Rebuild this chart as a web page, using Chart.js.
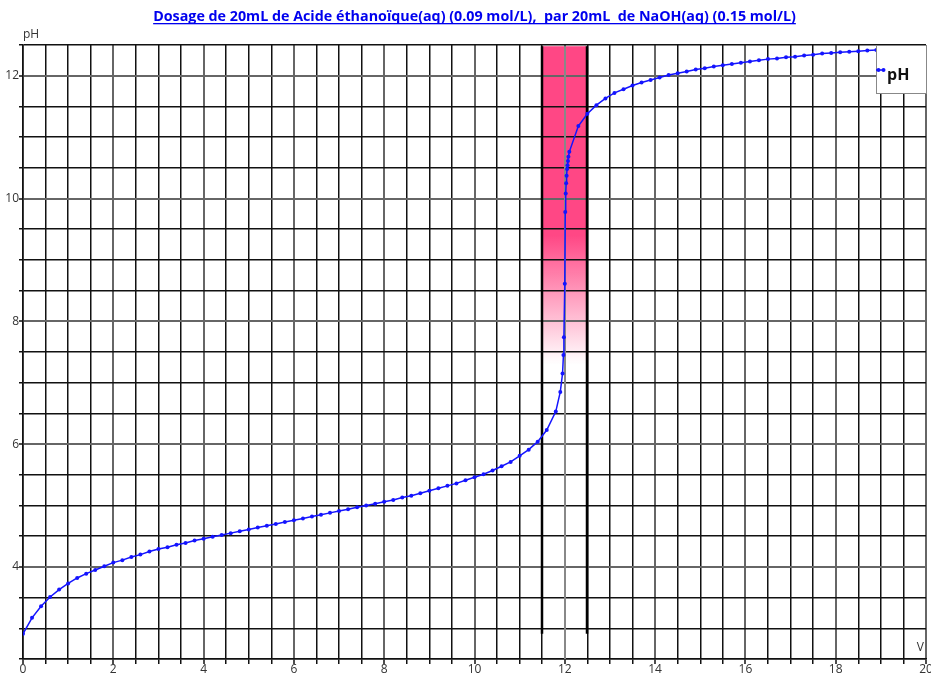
<!DOCTYPE html>
<html>
<head>
<meta charset="utf-8">
<script src="https://cdn.jsdelivr.net/npm/chart.js@4.4.1/dist/chart.umd.min.js"></script>
<style>
  body { margin: 0; background: #fff; }
  canvas { display: block; }
</style>
</head>
<body>
<canvas id="titrationChart" width="931" height="674"></canvas>
<script>
// Data
const volumes = [
  0, 0.2, 0.4, 0.6, 0.8, 1.0, 1.2, 1.4, 1.6, 1.8,
  2.0, 2.2, 2.4, 2.6, 2.8, 3.0, 3.2, 3.4, 3.6, 3.8,
  4.0, 4.2, 4.4, 4.6, 4.8, 5.0, 5.2, 5.4, 5.6, 5.8,
  6.0, 6.2, 6.4, 6.6, 6.8, 7.0, 7.2, 7.4, 7.6, 7.8,
  8.0, 8.2, 8.4, 8.6, 8.8, 9.0, 9.2, 9.4, 9.6, 9.8,
  10.0, 10.2, 10.4, 10.6, 10.8, 11.0, 11.2, 11.4, 11.6, 11.8,
  11.9, 11.95, 11.97, 11.98, 12.0, 12.01, 12.02, 12.03, 12.04, 12.05,
  12.06, 12.07, 12.08, 12.1, 12.3, 12.5, 12.7, 12.9, 13.1, 13.3,
  13.5, 13.7, 13.9, 14.1, 14.3, 14.5, 14.7, 14.9, 15.1, 15.3,
  15.5, 15.7, 15.9, 16.1, 16.3, 16.5, 16.7, 16.9, 17.1, 17.3,
  17.5, 17.7, 17.9, 18.1, 18.3, 18.5, 18.7, 18.9, 19.1, 19.3,
  19.5, 19.7, 19.9, 20
];
const phValues = [
  2.91, 3.17, 3.36, 3.51, 3.63, 3.73, 3.82, 3.89, 3.95, 4.01,
  4.07, 4.11, 4.16, 4.20, 4.25, 4.29, 4.32, 4.36, 4.39, 4.43,
  4.46, 4.49, 4.52, 4.55, 4.58, 4.61, 4.64, 4.67, 4.70, 4.73,
  4.76, 4.79, 4.82, 4.85, 4.88, 4.91, 4.94, 4.97, 5.00, 5.03,
  5.06, 5.09, 5.13, 5.16, 5.20, 5.24, 5.28, 5.32, 5.36, 5.41,
  5.46, 5.51, 5.57, 5.64, 5.71, 5.81, 5.91, 6.04, 6.23, 6.53,
  6.85, 7.15, 7.45, 7.74, 8.61, 9.78, 10.08, 10.25, 10.37, 10.48,
  10.54, 10.61, 10.68, 10.76, 11.18, 11.38, 11.52, 11.63, 11.72, 11.78,
  11.84, 11.89, 11.93, 11.97, 12.01, 12.04, 12.07, 12.10, 12.12, 12.15,
  12.17, 12.19, 12.21, 12.23, 12.25, 12.27, 12.28, 12.30, 12.31, 12.33,
  12.34, 12.36, 12.37, 12.38, 12.39, 12.40, 12.41, 12.42, 12.43, 12.44,
  12.45, 12.46, 12.47, 12.48
];
const xLabels = [0, 2, 4, 6, 8, 10, 12, 14, 16, 18, 20];
const yLabels = [4, 6, 8, 10, 12];
const equivalenceVolume = 12;
const zoneVolumes = [11.5, 12.5];

const titleText = 'Dosage de 20mL de Acide éthanoïque(aq) (0.09 mol/L),  par 20mL  de NaOH(aq) (0.15 mol/L)';
const fontFamily = '"Open Sans", "Noto Sans", sans-serif';

Chart.defaults.font.family = fontFamily;
Chart.defaults.font.size = 12;
Chart.defaults.color = '#333';

const points = volumes.map((v, i) => ({ x: v, y: phValues[i] }));

function gridColor(labels) {
  return (c) => (c.tick && labels.includes(c.tick.value)) ? '#666' : '#111';
}
function gridWidth(labels) {
  return (c) => (c.tick && labels.includes(c.tick.value)) ? 2 : 1.5;
}

// pink equivalence zone, marker lines, legend box, title and axis names
const decorations = {
  id: 'decorations',
  beforeDraw(chart) {
    const { ctx, scales: { x, y } } = chart;
    const top = y.getPixelForValue(Math.max(...phValues));
    const bottom = y.getPixelForValue(Math.min(...phValues));
    const left = x.getPixelForValue(zoneVolumes[0]);
    const right = x.getPixelForValue(zoneVolumes[1]);
    const grad = ctx.createLinearGradient(0, y.getPixelForValue(9.4), 0, y.getPixelForValue(7.3));
    grad.addColorStop(0, 'rgba(255,71,133,1)');
    grad.addColorStop(1, 'rgba(255,71,133,0)');
    ctx.save();
    ctx.fillStyle = grad;
    ctx.fillRect(left, top, right - left, bottom - top);
    ctx.restore();
  },
  beforeDatasetsDraw(chart) {
    const { ctx, scales: { x, y } } = chart;
    const top = y.getPixelForValue(Math.max(...phValues));
    const bottom = y.getPixelForValue(Math.min(...phValues));
    ctx.save();
    ctx.strokeStyle = '#000';
    ctx.lineWidth = 2.5;
    zoneVolumes.forEach(v => {
      const px = Math.round(x.getPixelForValue(v));
      ctx.beginPath();
      ctx.moveTo(px, top);
      ctx.lineTo(px, bottom);
      ctx.stroke();
    });
    ctx.strokeStyle = '#888';
    ctx.lineWidth = 2;
    const ex = Math.round(x.getPixelForValue(equivalenceVolume));
    ctx.beginPath();
    ctx.moveTo(ex, top);
    ctx.lineTo(ex, y.bottom);
    ctx.stroke();
    ctx.restore();
  },
  afterDraw(chart) {
    const { ctx, chartArea } = chart;
    ctx.save();

    // title, underlined, sized to span 153..796
    ctx.font = 'bold 13px ' + fontFamily;
    const size = 13 * 643 / ctx.measureText(titleText).width;
    ctx.font = 'bold ' + size.toFixed(2) + 'px ' + fontFamily;
    ctx.fillStyle = '#0000ee';
    ctx.textAlign = 'center';
    ctx.textBaseline = 'alphabetic';
    const cx = 474.5;
    ctx.fillText(titleText, cx, 21);
    const w = ctx.measureText(titleText).width;
    ctx.fillRect(cx - w / 2, 23, w, 1.3);

    // axis names
    ctx.font = '12px ' + fontFamily;
    ctx.fillStyle = '#333';
    ctx.textAlign = 'left';
    ctx.fillText('pH', chartArea.left, 38);
    ctx.textAlign = 'right';
    ctx.fillText('V', chartArea.right - 2, 651);

    // legend box
    const bx = 876.5, by = chartArea.top + 0.5, bw = 50, bh = 48;
    ctx.fillStyle = '#fff';
    ctx.fillRect(bx, by, bw, bh);
    ctx.strokeStyle = '#888';
    ctx.lineWidth = 1;
    ctx.strokeRect(bx, by, bw, bh);
    ctx.strokeStyle = '#1414ff';
    ctx.fillStyle = '#1414ff';
    ctx.lineWidth = 1.5;
    ctx.beginPath();
    ctx.moveTo(876, 70);
    ctx.lineTo(885, 70);
    ctx.stroke();
    [878.5, 883.5].forEach(px => {
      ctx.beginPath();
      ctx.arc(px, 70, 2, 0, Math.PI * 2);
      ctx.fill();
    });
    ctx.font = 'bold 16px ' + fontFamily;
    ctx.fillStyle = '#111';
    ctx.textAlign = 'left';
    ctx.fillText('pH', 887, 80);
    ctx.restore();
  }
};

const ctx = document.getElementById('titrationChart').getContext('2d');
new Chart(ctx, {
  type: 'line',
  data: {
    datasets: [{
      label: 'pH',
      data: points,
      borderColor: '#1414ff',
      backgroundColor: '#1414ff',
      borderWidth: 1.5,
      pointRadius: 2,
      pointHoverRadius: 2,
      pointBorderWidth: 0,
      tension: 0,
      fill: false
    }]
  },
  options: {
    responsive: false,
    animation: false,
    layout: { padding: { top: 45, right: 5, left: 0, bottom: 0 } },
    plugins: {
      legend: { display: false },
      tooltip: { enabled: false },
      title: { display: false }
    },
    scales: {
      x: {
        type: 'linear',
        min: 0,
        max: 20,
        afterFit: (s) => { s.height = 15; },
        ticks: {
          stepSize: 0.5,
          autoSkip: false,
          maxRotation: 0,
          minRotation: 0,
          padding: -2,
          callback: (v) => xLabels.includes(v) ? String(v) : ''
        },
        grid: {
          color: gridColor(xLabels),
          lineWidth: gridWidth(xLabels),
          tickLength: 5,
          tickColor: '#111',
          tickWidth: 1.5
        },
        border: { color: '#111', width: 1.5 }
      },
      y: {
        min: 2.5,
        max: 12.5,
        afterFit: (s) => { s.width = 23; },
        ticks: {
          stepSize: 0.5,
          autoSkip: false,
          padding: 0,
          callback: (v) => yLabels.includes(v) ? String(v) : ''
        },
        grid: {
          color: gridColor(yLabels),
          lineWidth: gridWidth(yLabels),
          tickLength: 4,
          tickColor: '#111',
          tickWidth: 1.5
        },
        border: { color: '#111', width: 1.5 }
      }
    }
  },
  plugins: [decorations]
});
</script>
</body>
</html>
